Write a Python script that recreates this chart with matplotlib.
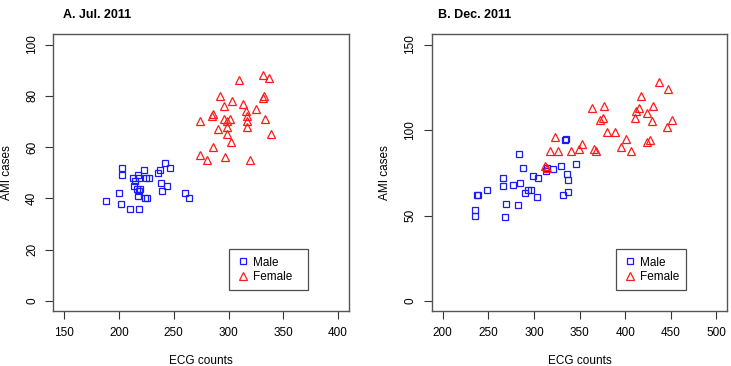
import matplotlib
matplotlib.use("Agg")
import matplotlib.pyplot as plt

plt.rcParams['font.family'] = ['Liberation Sans', 'DejaVu Sans']

# Panel A: Jul. 2011
a_male_ecg = [188, 200, 202, 203, 203, 210, 212.7, 214.2, 213.9, 216, 216.9, 218.4, 219,
              218.1, 216.9, 218.1, 223, 224.2, 227.6, 223.3, 225.7, 236, 237, 237.9,
              239.7, 241.8, 244, 247, 260, 264]
a_male_ami = [39, 42, 38, 52, 49, 36, 48, 46.7, 45, 43.8, 49, 48, 43.8,
              42.9, 41, 36, 51, 48, 48, 40, 40, 50, 51, 46,
              43, 54, 45, 52, 42, 40]
a_female_ecg = [273.8, 274.1, 279.9, 285.3, 285.9, 285.9, 290.8, 292.6, 295.6, 295.9, 297.1,
                298.4, 298.7, 299, 301, 302, 302.9, 309.7, 313, 315.7, 316.7, 317, 317,
                320, 324.9, 331.3, 332.2, 331.9, 333.7, 336.8, 338.9]
a_female_ami = [70, 57, 55, 72, 73, 60, 67, 80, 76, 71, 56,
                65, 68, 70, 71, 62, 78, 86, 77, 74, 72, 70, 68,
                55, 75, 79, 80, 88, 71, 87, 65]

# Panel B: Dec. 2011
b_male_ecg = [235.8, 235.8, 237.6, 239.1, 248.9, 265.7, 265.7, 268.2, 269.7, 276.6, 282.8,
              283.6, 284.3, 288, 289.8, 293.8, 297.1, 298.5, 302.9, 304, 312.8, 314.2,
              320.4, 329.6, 331.4, 333.9, 335, 336.1, 336.9, 336.9, 346]
b_male_ami = [50, 53, 62, 62, 65, 67, 72, 49, 57, 68, 56,
              86, 69, 78, 63, 65, 65, 73, 61, 72, 76, 78,
              77, 79, 62, 94, 95, 74, 71, 64, 80]
b_female_ecg = [312.4, 314.2, 317.9, 323, 325.9, 340.9, 349.3, 352.9, 363.9, 366.1, 367.5,
                372.6, 375.5, 376.6, 379.6, 388.7, 395.6, 400.7, 406.6, 410.6, 412.4,
                415, 417.5, 423.4, 423.7, 427.7, 429.6, 430.7, 437.6, 446.4, 447.5, 451.8]
b_female_ami = [79, 78, 88, 96, 88, 88, 89, 92, 113, 89, 88,
                106, 107, 114, 99, 99, 90, 95, 88, 107, 111,
                113, 120, 110, 93, 94, 105, 114, 128, 102, 124, 106]

panels = [
    dict(title='A. Jul. 2011', male=(a_male_ecg, a_male_ami), female=(a_female_ecg, a_female_ami),
         xlim=(150, 400), ylim=(0, 100), xticks=range(150, 401, 50), yticks=range(0, 101, 20),
         rect=[0.0729, 0.1495, 0.4045, 0.7568], title_x=63 / 731, leg=(0.593, 0.077, 0.269, 0.143)),
    dict(title='B. Dec. 2011', male=(b_male_ecg, b_male_ami), female=(b_female_ecg, b_female_ami),
         xlim=(200, 500), ylim=(0, 150), xticks=range(200, 501, 50), yticks=range(0, 151, 50),
         rect=[0.5906, 0.1495, 0.4044, 0.7568], title_x=438 / 731, leg=(0.622, 0.077, 0.239, 0.143)),
]

fig = plt.figure(figsize=(7.31, 3.66), dpi=100)

for p in panels:
    ax = fig.add_axes(p['rect'])
    ax.plot(*p['male'], linestyle='none', marker='s', markersize=4.6, markerfacecolor='none',
            markeredgecolor='#1a1aff', markeredgewidth=0.9, label='Male')
    ax.plot(*p['female'], linestyle='none', marker='^', markersize=5.8, markerfacecolor='none',
            markeredgecolor='#ff1a1a', markeredgewidth=0.9, label='Female')
    # R style 4% padding
    x0, x1 = p['xlim']
    y0, y1 = p['ylim']
    dx, dy = 0.04 * (x1 - x0), 0.04 * (y1 - y0)
    ax.set_xlim(x0 - dx, x1 + dx)
    ax.set_ylim(y0 - dy, y1 + dy)
    ax.set_xticks(list(p['xticks']))
    ax.set_yticks(list(p['yticks']))
    ax.tick_params(direction='out', length=6, width=0.8, labelsize=8.5, color='#333333', pad=5)
    for lbl in ax.get_yticklabels():
        lbl.set_rotation(90)
        lbl.set_va('center')
    for s in ax.spines.values():
        s.set_color('#555555')
        s.set_linewidth(1.0)
    ax.set_xlabel('ECG counts', fontsize=8.5, labelpad=12)
    ax.set_ylabel('AMI cases', fontsize=8.5, va='center')
    ax.yaxis.set_label_coords(-0.157, 0.5)
    fig.text(p['title_x'], 0.975, p['title'], fontsize=9, fontweight='bold', va='top', ha='left')
    leg = ax.legend(loc='lower left', bbox_to_anchor=p['leg'], mode='expand', fontsize=8.5,
                    frameon=True, fancybox=False, edgecolor='#222222', borderpad=0.6,
                    handletextpad=0.3, handlelength=1.2, labelspacing=0.2, borderaxespad=0)
    leg.get_frame().set_linewidth(0.9)

fig.savefig('out.png', dpi=100)
